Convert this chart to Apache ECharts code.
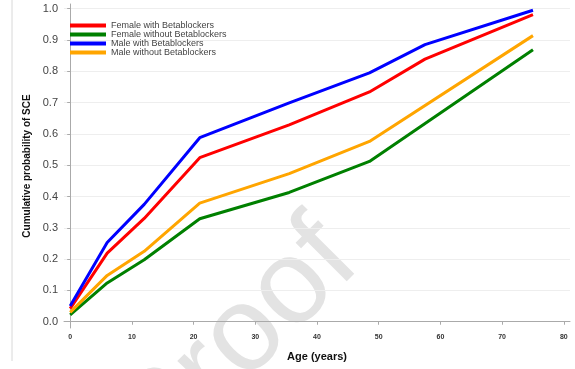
<!DOCTYPE html>
<html><head><meta charset="utf-8">
<script src="https://cdn.jsdelivr.net/npm/echarts@6/dist/echarts.min.js"></script>
<style>html,body{margin:0;padding:0;background:#fff}#c{width:575px;height:369px}</style>
</head><body><div id="c"></div>
<script>
const seriesNames = ['Female with Betablockers','Female without Betablockers','Male with Betablockers','Male without Betablockers'];
const femaleWithAge = [0, 6, 12, 21, 35.5, 48.5, 57.5, 75];
const femaleWithVal = [0.042, 0.219, 0.33, 0.524, 0.629, 0.734, 0.839, 0.981];
const femaleWithoutAge = [0, 6, 12, 21, 35.5, 48.5, 75];
const femaleWithoutVal = [0.022, 0.124, 0.198, 0.329, 0.413, 0.512, 0.869];
const maleWithAge = [0, 6, 12, 21, 35.5, 48.5, 57.5, 75];
const maleWithVal = [0.05, 0.253, 0.375, 0.588, 0.699, 0.795, 0.885, 0.995];
const maleWithoutAge = [0, 6, 12, 21, 35.5, 48.5, 75];
const maleWithoutVal = [0.03, 0.148, 0.225, 0.379, 0.473, 0.576, 0.914];
const xTicks = [0, 10, 20, 30, 40, 50, 60, 70, 80];
const yTicks = [0, 0.1, 0.2, 0.3, 0.4, 0.5, 0.6, 0.7, 0.8, 0.9, 1.0];
const colors = ['#ff0000', '#008000', '#0000ff', '#ffa500'];

const pairs = (a, v) => a.map((x, i) => [x, v[i]]);
const allData = [
  pairs(femaleWithAge, femaleWithVal),
  pairs(femaleWithoutAge, femaleWithoutVal),
  pairs(maleWithAge, maleWithVal),
  pairs(maleWithoutAge, maleWithoutVal)
];

const chart = echarts.init(document.getElementById('c'), null, {renderer: 'canvas'});
chart.setOption({
  animation: false,
  backgroundColor: '#fff',
  textStyle: {fontFamily: 'Liberation Sans, Arial, sans-serif'},
  graphic: [
    {type: 'line', shape: {x1: 12, y1: 0, x2: 12, y2: 361}, style: {stroke: '#d8d8d8', lineWidth: 1}, z: -1},
    {type: 'text', x: 179, y: 487, rotation: Math.PI / 4, z: -1, silent: true,
      style: {text: 'Proof', fill: '#e3e3e3', textAlign: 'left', textVerticalAlign: 'bottom',
        font: '120px Liberation Sans, Arial, sans-serif'}}
  ],
  legend: {
    left: 65, top: 16, orient: 'vertical', itemGap: 0, itemWidth: 36, itemHeight: 9,
    textStyle: {fontSize: 9, color: '#444', padding: [0, 0, 0, 0]},
    data: seriesNames.map((n, i) => ({name: n, icon: 'path://M0,0L36,0L36,4L0,4Z'}))
  },
  grid: {left: 64, top: 4, width: 506, height: 324},
  xAxis: {
    type: 'value', min: -1, max: 81,
    name: 'Age (years)', nameLocation: 'middle', nameGap: 23,
    nameTextStyle: {fontSize: 11, fontWeight: 'bold', color: '#111'},
    axisLine: {show: true, lineStyle: {color: '#aaa'}},
    axisTick: {show: true, length: 3, lineStyle: {color: '#aaa'}, customValues: xTicks},
    axisLabel: {fontSize: 7, fontWeight: 'bold', color: '#333', margin: 6, customValues: xTicks},
    splitLine: {show: false}
  },
  yAxis: {
    type: 'value', min: -0.02, max: 1.015,
    name: 'Cumulative probability of SCE', nameLocation: 'middle', nameGap: 31,
    nameTextStyle: {fontSize: 10, fontWeight: 'bold', color: '#111'},
    axisLine: {show: true, lineStyle: {color: '#aaa'}},
    axisTick: {show: true, length: 3, lineStyle: {color: '#aaa'}, customValues: yTicks},
    axisLabel: {fontSize: 11, color: '#444', margin: 6, customValues: yTicks, formatter: v => v.toFixed(1)},
    splitLine: {show: true, lineStyle: {color: '#eeeeee'}}
  },
  series: seriesNames.map((n, i) => ({
    name: n, type: 'line', data: allData[i], showSymbol: false, symbol: 'none',
    lineStyle: {width: 3, color: colors[i]}, itemStyle: {color: colors[i]}
  }))
});
</script></body></html>
